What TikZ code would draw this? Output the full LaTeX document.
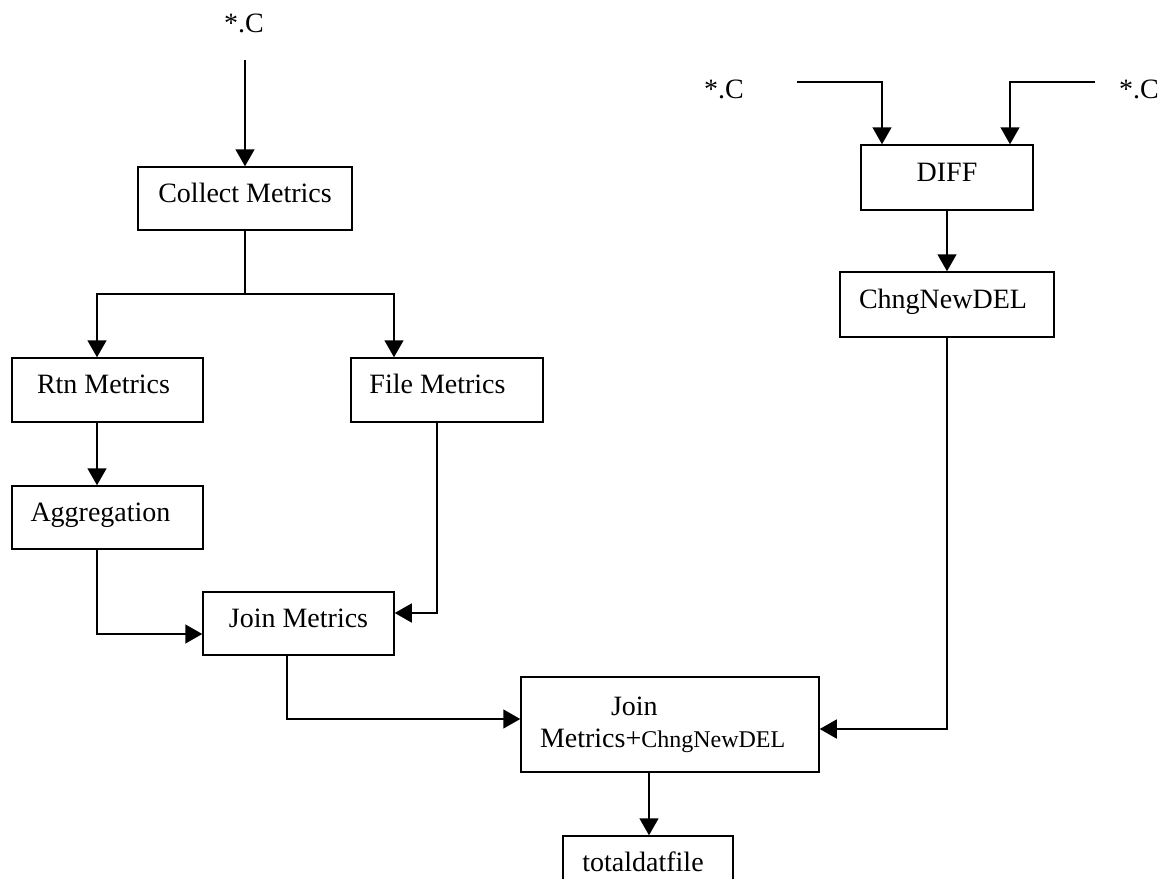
\documentclass[tikz,border=0pt]{standalone}
\usepackage{fontspec}
\setmainfont{Liberation Serif}
\usetikzlibrary{arrows.meta}
\tikzset{
    boxline/.style={draw, line width=1.5pt},
    blk/.style={boxline, inner sep=0pt, text height=19.6pt, text depth=12.6pt},
    arr/.style={-{Triangle[width=19pt,length=17pt]}, line width=1.5pt},
    lbl/.style={inner sep=0pt, anchor=base}
}
\begin{document}
\begin{tikzpicture}[x=1pt,y=-1pt,font=\fontsize{28}{32}\selectfont]
    \useasboundingbox (0,0) rectangle (1166,878);

    % sources
    \node[lbl] (srcC) at (244,32) {*.C};
    \node[lbl] (srcL) at (724,98) {*.C};
    \node[lbl] (srcR) at (1139,98) {*.C};
    \coordinate (inTop) at (245,60);
    \coordinate (inL) at (797,82);
    \coordinate (inR) at (1095,82);
    \coordinate (split) at (245,294);

    % boxes
    \node[blk, minimum width=214pt, minimum height=63pt] (collect) at (245,198.5) {Collect Metrics};
    \node[blk, minimum width=191pt, minimum height=64pt] (rtn) at (107.5,390) {Rtn Metrics\hspace*{8pt}};
    \node[blk, minimum width=192pt, minimum height=64pt] (file) at (447,390) {File Metrics\hspace*{19pt}};
    \node[blk, minimum width=191pt, minimum height=63pt] (agg) at (107.5,517.5) {Aggregation\hspace*{14pt}};
    \node[blk, minimum width=191pt, minimum height=63pt] (join) at (298.5,623.5) {Join Metrics};
    \node[blk, minimum width=172pt, minimum height=65pt] (diff) at (947,177.5) {DIFF};
    \node[blk, minimum width=214pt, minimum height=65pt] (chng) at (947,304.5) {ChngNewDEL\hspace*{8pt}};
    \node[boxline, minimum width=298pt, minimum height=95pt, text width=260pt,
        inner xsep=19pt, inner ysep=0pt, align=left] (joinall) at (670,724.5)
        {\hspace*{71pt}Join\\Metrics+{\fontsize{24}{32}\selectfont ChngNewDEL}};
    \node[blk, minimum width=170pt, minimum height=64pt] (total) at (648,868) {totaldatfile\hspace*{10pt}};

    % connectors
    \draw[arr] (inTop) -- (collect);
    \draw[line width=1.5pt] (collect) -- (split);
    \draw[arr] (split) -| ([xshift=-10.5pt]rtn.north);
    \draw[arr] (split) -| ([xshift=-53pt]file.north);
    \draw[arr] ([xshift=-10.5pt]rtn.south) -- ([xshift=-10.5pt]agg.north);
    \draw[arr] ([xshift=-10.5pt]agg.south) |- ([yshift=-10.5pt]join.west);
    \draw[arr] ([xshift=-10pt]file.south) |- ([yshift=10.5pt]join.east);
    \draw[arr] ([xshift=-11.5pt]join.south) |- ([yshift=5.5pt]joinall.west);
    \draw[arr] (inL) -| ([xshift=-65pt]diff.north);
    \draw[arr] (inR) -| ([xshift=63pt]diff.north);
    \draw[arr] (diff) -- (chng);
    \draw[arr] (chng.south) |- ([yshift=-4.5pt]joinall.east);
    \draw[arr] ([xshift=-21pt]joinall.south) -- ([xshift=1pt]total.north);
\end{tikzpicture}
\end{document}
